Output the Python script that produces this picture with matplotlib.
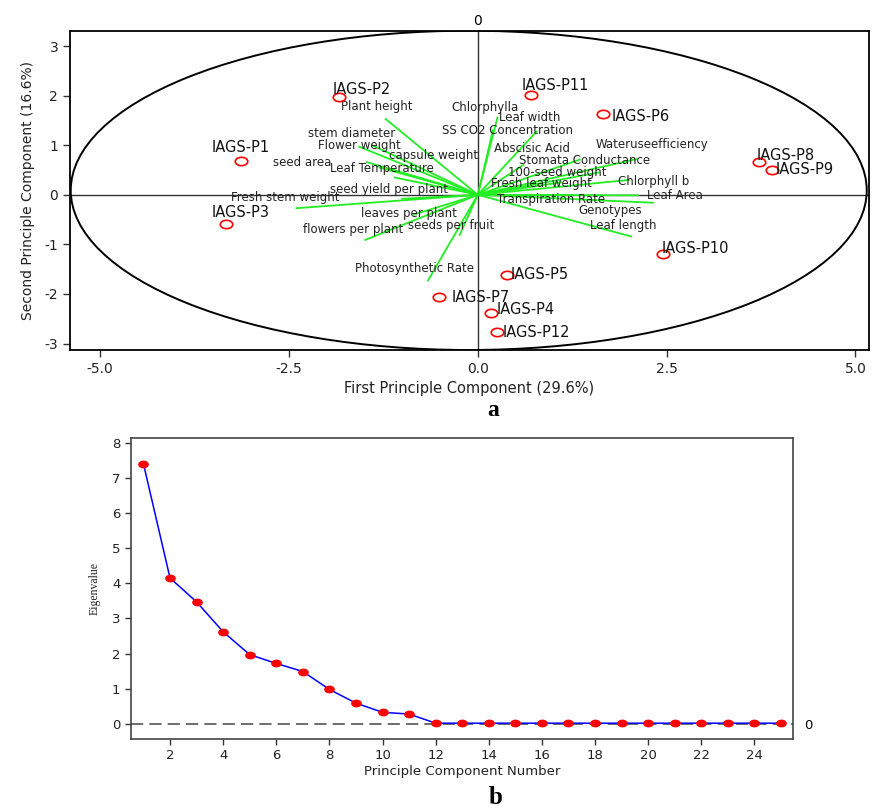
import matplotlib
matplotlib.use("Agg")
import matplotlib.pyplot as plt
import numpy as np
from matplotlib.markers import MarkerStyle
from matplotlib.patches import Ellipse
from matplotlib.transforms import Affine2D

plt.rcParams['axes.unicode_minus'] = False
plt.rcParams['font.family'] = 'DejaVu Sans'

# ---- PCA scores of the genotypes
genotypes = ['IAGS-P1', 'IAGS-P2', 'IAGS-P3', 'IAGS-P4', 'IAGS-P5', 'IAGS-P6',
             'IAGS-P7', 'IAGS-P8', 'IAGS-P9', 'IAGS-P10', 'IAGS-P11', 'IAGS-P12']
pc1_scores = [-3.14, -1.84, -3.33, 0.17, 0.39, 1.66, -0.51, 3.72, 3.89, 2.45, 0.70, 0.26]
pc2_scores = [0.68, 1.98, -0.59, -2.39, -1.61, 1.63, -2.07, 0.66, 0.50, -1.20, 2.01, -2.77]

# ---- variable loadings (scaled)
variables = ['Plant height', 'stem diameter', 'Flower weight', 'capsule weight', 'seed area',
             'Leaf Temperature', 'seed yield per plant', 'Fresh stem weight', 'leaves per plant',
             'flowers per plant', 'seeds per fruit', 'Photosynthetic Rate',
             'Chlorphylla', 'Leaf width', 'SS CO2 Concentration', 'Abscisic Acid',
             'Wateruseefficiency', 'Stomata Conductance', '100-seed weight', 'Chlorphyll b',
             'Fresh leaf weight', 'Transpiration Rate', 'Leaf Area', 'Genotypes', 'Leaf length']
load1 = [-1.22, -1.40, -1.57, -1.47, -1.10, -1.30, -1.00, -2.40, -0.85, -1.49, -0.24, -0.66,
         0.26, 0.20, 0.78, 0.60, 2.10, 1.35, 1.60, 2.00, 1.10, 1.22, 2.12, 2.32, 2.03]
load2 = [1.53, 1.00, 0.97, 0.66, 0.35, 0.55, -0.08, -0.27, -0.40, -0.91, -0.81, -1.73,
         1.56, 1.30, 1.28, 0.60, 0.72, 0.71, 0.45, 0.30, 0.25, 0.00, -0.01, -0.16, -0.84]

# ---- scree data
eigenvalues = [7.40, 4.15, 3.47, 2.62, 1.97, 1.72, 1.49, 0.98, 0.59, 0.33, 0.28,
               0.02, 0.02, 0.02, 0.02, 0.02, 0.02, 0.02, 0.02, 0.02, 0.02, 0.02, 0.02, 0.02, 0.02]

# label placement (layout only)
score_offsets = [(-29, 14), (-6, 7), (-15, 12), (6, 4), (3, 0), (8, -3),
                 (12, 0), (-2, 7), (4, 1), (-1, 6), (-9, 10), (5, 0)]
var_label_pos = [(-1.81, 1.78), (-2.25, 1.24), (-2.11, 0.99), (-1.17, 0.79), (-2.71, 0.66),
                 (-1.96, 0.53), (-1.96, 0.11), (-3.27, -0.05), (-1.55, -0.37), (-2.32, -0.69),
                 (-0.93, -0.62), (-1.63, -1.49),
                 (-0.35, 1.77), (0.28, 1.56), (-0.47, 1.29), (0.22, 0.94), (1.56, 1.02),
                 (0.54, 0.70), (0.40, 0.46), (1.86, 0.26), (0.17, 0.22), (0.25, -0.09),
                 (2.24, -0.02), (1.33, -0.32), (1.49, -0.62)]

fig = plt.figure(figsize=(8.77, 8.10), dpi=100)

# ================= panel a: biplot
ax = fig.add_axes([70 / 877, 1 - 350 / 810, 799 / 877, 319.3 / 810])
ax.set_xlim(-5.40, 5.18)
ax.set_ylim(-3.13, 3.31)
ax.axhline(0, color='#333333', lw=1.0, zorder=1)
ax.axvline(0, color='#333333', lw=1.0, zorder=1)
ax.add_patch(Ellipse((-0.12, 0.09), 10.54, 6.44, fill=False, ec='black', lw=1.4, zorder=2))

for x, y in zip(load1, load2):
    ax.plot([0, x], [0, y], color='#22ee22', lw=1.3, zorder=3)
for name, (tx, ty) in zip(variables, var_label_pos):
    ax.text(tx, ty, name, fontsize=8.5, color='#222222', ha='left', va='center', zorder=4)

ring = MarkerStyle('o', transform=Affine2D().scale(1.5, 1.0))
ax.plot(pc1_scores, pc2_scores, linestyle='none', marker=ring, ms=6,
        mfc='none', mec='red', mew=1.2, zorder=5)
for name, x, y, off in zip(genotypes, pc1_scores, pc2_scores, score_offsets):
    ax.annotate(name, (x, y), xytext=off, textcoords='offset pixels',
                fontsize=10.5, color='#111111', ha='left', va='center', zorder=6)

ax.set_xticks([-5.0, -2.5, 0.0, 2.5, 5.0])
ax.set_xticklabels(['-5.0', '-2.5', '0.0', '2.5', '5.0'])
ax.set_yticks([-3, -2, -1, 0, 1, 2, 3])
ax.tick_params(labelsize=10, length=5, width=1, color='#333333', labelcolor='#222222')
ax.set_xlabel('First Principle Component (29.6%)', fontsize=10.5, color='#222222', labelpad=4)
ax.set_ylabel('Second Principle Component (16.6%)', fontsize=10, color='#222222', labelpad=7)
for s in ax.spines.values():
    s.set_linewidth(1.3)
top = ax.secondary_xaxis('top')
top.set_xticks([0])
top.set_xticklabels(['0'])
top.tick_params(length=0, labelsize=10, pad=2)
top.spines['top'].set_visible(False)

fig.text(493 / 877, 1 - 410 / 810, 'a', fontsize=17, fontweight='bold',
         family='Liberation Serif', ha='center', va='center')

# ================= panel b: scree plot
bx = fig.add_axes([130.7 / 877, 1 - 739 / 810, 662 / 877, 300.7 / 810])
comp = np.arange(1, len(eigenvalues) + 1)
bx.axhline(0, color='#444444', lw=1.1, linestyle=(0, (8, 4)), zorder=1)
dot = MarkerStyle('o', transform=Affine2D().scale(1.45, 1.0))
bx.plot(comp, eigenvalues, color='blue', lw=1.1, marker=dot, ms=4.6,
        mfc='red', mec='red', zorder=3)
bx.set_xlim(0.52, 25.44)
bx.set_ylim(-0.43, 8.125)
bx.set_xticks(np.arange(2, 25, 2))
bx.set_yticks(np.arange(0, 9, 1))
bx.tick_params(labelsize=9.5, length=4, width=1, color='#333333', labelcolor='#222222')
bx.set_xlabel('Principle Component Number', fontsize=9.5, color='#222222', labelpad=2)
bx.set_ylabel('Eigenvalue', fontsize=8.5, family='Liberation Serif', color='#222222', labelpad=8)
for s in bx.spines.values():
    s.set_linewidth(1.2)
    s.set_color('#444444')
rt = bx.secondary_yaxis('right')
rt.set_yticks([0])
rt.set_yticklabels(['0'])
rt.tick_params(length=0, labelsize=9.5, pad=8)
rt.spines['right'].set_visible(False)

fig.text(496 / 877, 1 - 798 / 810, 'b', fontsize=18, fontweight='bold',
         family='Liberation Serif', ha='center', va='center')

fig.savefig('out.png', dpi=100)
